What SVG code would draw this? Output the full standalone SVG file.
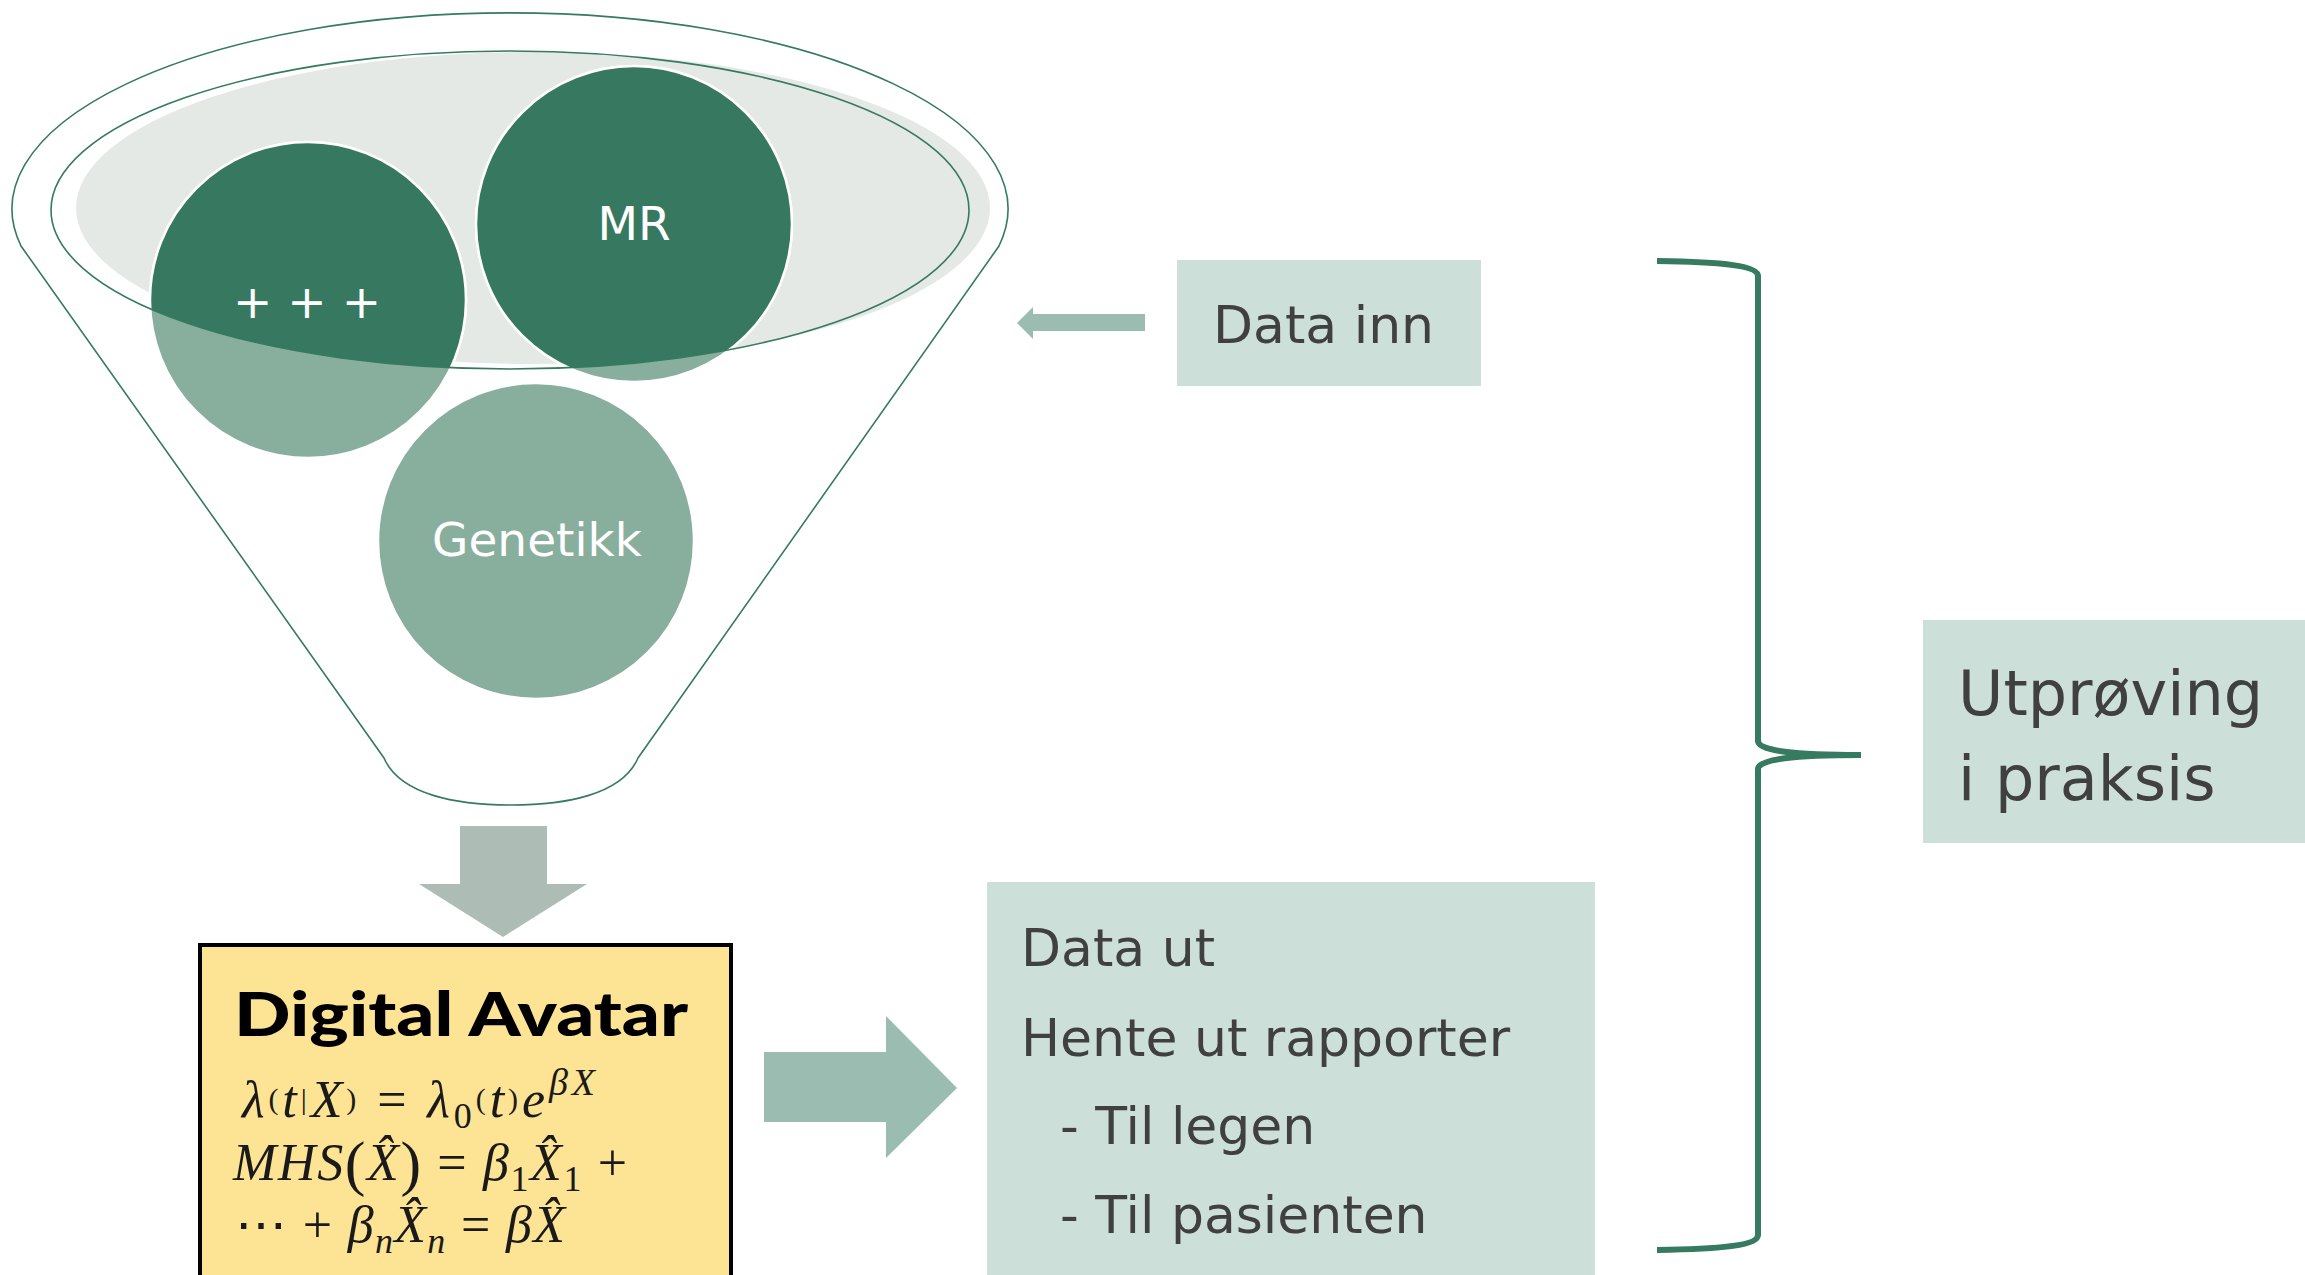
<svg xmlns="http://www.w3.org/2000/svg" width="2305" height="1275" viewBox="0 0 2305 1275">
<style>
.lbl{font-family:"DejaVu Sans","Verdana",sans-serif;fill:#404040}
.wht{font-family:"DejaVu Sans","Verdana",sans-serif;fill:#ffffff;font-size:47px;text-anchor:middle}
.box{fill:#cddfd9}
.arr{fill:#9bbdb1}
.line{fill:none;stroke:#367a60;stroke-width:1.6}
.light{fill:#88ae9d;stroke:#ffffff;stroke-width:2.5}
.dark{fill:#377860;stroke:#ffffff;stroke-width:2.5}
.m{font-family:"Liberation Serif","Times New Roman",serif;font-style:italic;font-size:52px;fill:#1a1a1a}
.up{font-style:normal}
</style>
<defs>
<clipPath id="rim"><ellipse cx="510" cy="210" rx="459" ry="159"/></clipPath>
</defs>
<rect width="2305" height="1275" fill="#ffffff"/>

<g id="funnel">
<path class="line" d="M21,246 A498,196 0 1 1 999,246 L638,758 C622,795 565,805 511,805 C457,805 400,795 384,758 Z"/>
<ellipse cx="533" cy="208" rx="457" ry="156" fill="#e4e9e5"/>
</g>

<g id="circle-plus">
<circle class="light" cx="308" cy="300" r="158"/>
<circle class="dark" cx="308" cy="300" r="158" clip-path="url(#rim)"/>
<text class="wht" x="307" y="318">+ + +</text>
</g>

<g id="circle-mr">
<circle class="light" cx="634" cy="224" r="158"/>
<circle class="dark" cx="634" cy="224" r="158" clip-path="url(#rim)"/>
<text class="wht" x="634" y="240">MR</text>
</g>

<g id="circle-genetikk">
<circle class="light" cx="536" cy="541" r="158"/>
<text class="wht" x="537" y="556">Genetikk</text>
</g>

<g id="funnel-rim">
<ellipse class="line" cx="510" cy="210" rx="459" ry="159"/>
</g>

<g id="data-inn">
<rect class="box" x="1177" y="260" width="304" height="126"/>
<text class="lbl" x="1213" y="343" font-size="52">Data inn</text>
</g>

<g id="digital-avatar">
<rect x="200" y="945" width="531" height="345" fill="#fde394" stroke="#000000" stroke-width="4"/>
<text x="234" y="1036" font-family="Lato,'Liberation Sans',sans-serif" font-weight="900" font-size="61" fill="#000000" textLength="454" lengthAdjust="spacingAndGlyphs">Digital Avatar</text>
<text class="m" x="242" y="1117" textLength="353">λ<tspan class="up" font-size="30" dy="-8">(</tspan><tspan dy="8">t</tspan><tspan class="up" font-size="30" dy="-8">|</tspan><tspan dy="8">X</tspan><tspan class="up" font-size="30" dy="-8">)</tspan><tspan class="up" dy="8"> = </tspan>λ<tspan class="up" font-size="36" dy="11">0</tspan><tspan class="up" font-size="30" dy="-19">(</tspan><tspan dy="8">t</tspan><tspan class="up" font-size="30" dy="-8">)</tspan><tspan dy="8">e</tspan><tspan font-size="38" dy="-22">βX</tspan></text>
<text class="m" x="233" y="1180" textLength="394">MHS<tspan class="up" font-size="62" dy="4">(</tspan><tspan dy="-4">X̂</tspan><tspan class="up" font-size="62" dy="4">)</tspan><tspan class="up" dy="-4"> = </tspan>β<tspan class="up" font-size="36" dy="11">1</tspan><tspan dy="-11">X̂</tspan><tspan class="up" font-size="36" dy="11">1</tspan><tspan class="up" dy="-11"> +</tspan></text>
<text class="m" x="235" y="1242" textLength="330"><tspan class="up">⋯ + </tspan>β<tspan font-size="36" dy="11">n</tspan><tspan dy="-11">X̂</tspan><tspan font-size="36" dy="11">n</tspan><tspan class="up" dy="-11"> = </tspan>βX̂</text>
</g>

<g id="data-ut">
<rect class="box" x="987" y="882" width="608" height="393"/>
<text class="lbl" x="1021" y="966" font-size="52">Data ut</text>
<text class="lbl" x="1021" y="1056" font-size="52">Hente ut rapporter</text>
<text class="lbl" x="1060" y="1144" font-size="52">- Til legen</text>
<text class="lbl" x="1060" y="1233" font-size="52">- Til pasienten</text>
</g>

<g id="utproving">
<rect class="box" x="1923" y="620" width="382" height="223"/>
<text class="lbl" x="1958" y="715" font-size="62">Utprøving</text>
<text class="lbl" x="1958" y="800" font-size="62">i praksis</text>
</g>

<g id="connectors">
<polygon class="arr" points="1145,314 1033,314 1033,307 1017,323 1033,339 1033,331 1145,331"/>
<polygon fill="#adbdb5" points="460,826 547,826 547,884 587,884 503,937 419,884 460,884"/>
<polygon class="arr" points="764,1052 886,1052 886,1016 957,1088 886,1158 886,1122 764,1122"/>
<path fill="none" stroke="#367a60" stroke-width="6" d="M1657,261 C1725,262 1758,266 1758,276 V741 C1758,751 1795,755 1861,755 C1795,755 1758,759 1758,769 V1235 C1758,1245 1725,1249 1657,1250"/>
</g>
</svg>
